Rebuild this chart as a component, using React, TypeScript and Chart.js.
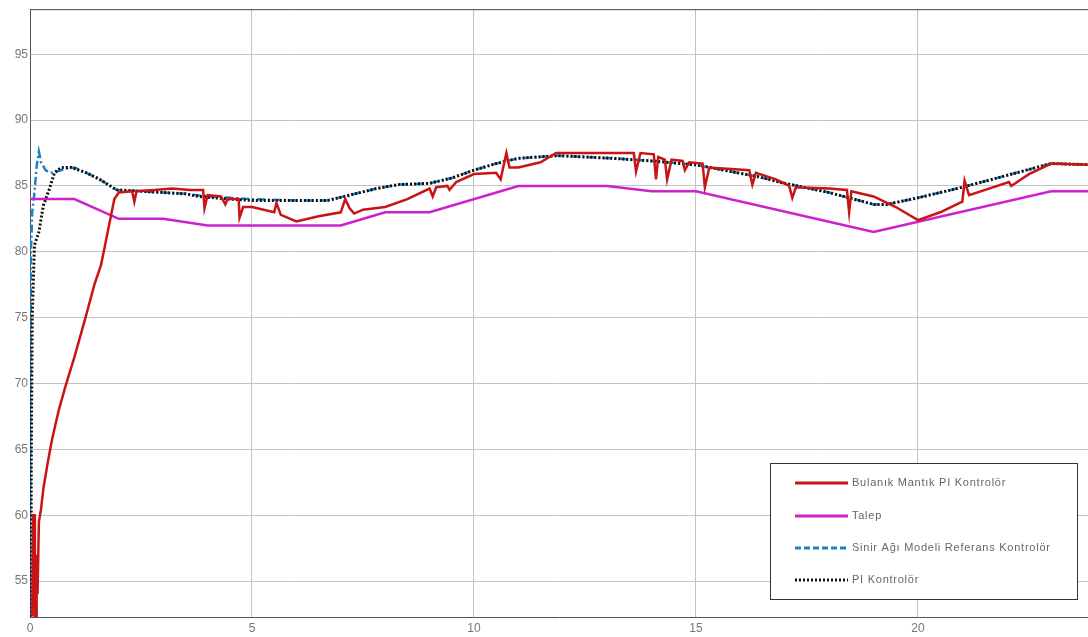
import React, { useEffect, useRef } from "react";
import { Chart, registerables } from "chart.js";
Chart.register(...registerables);

const xTicks = [0, 5, 10, 15, 20];
const yTicks = [55, 60, 65, 70, 75, 80, 85, 90, 95];

const seriesNames = [
  "Bulanık Mantık PI Kontrolör",
  "Talep",
  "Sinir Ağı Modeli Referans Kontrolör",
  "PI Kontrolör",
];

const talepX = [0, 1, 2, 3, 4, 7, 8, 9, 11, 13, 14, 15, 19, 23, 24];
const talepY = [84, 84, 82.5, 82.5, 82, 82, 83, 83, 85, 85, 84.6, 84.6, 81.5, 84.6, 84.6];

const piX = [0.02, 0.03, 0.05, 0.1, 0.2, 0.3, 0.44, 0.55, 0.7, 0.93, 1.27, 1.57, 1.95, 2.5, 3, 3.5, 3.8, 4.5, 5, 6, 6.7, 7.2, 7.8, 8.3, 9, 9.5, 10, 10.5, 11, 11.9, 13.1, 14, 15, 16.4, 17, 18, 19, 19.3, 20, 21, 22, 23, 24];
const piY = [52.3, 65, 75, 80.5, 81.5, 83.5, 84.8, 86.0, 86.4, 86.4, 86.0, 85.5, 84.7, 84.6, 84.5, 84.4, 84.2, 84.0, 83.9, 83.9, 83.9, 84.3, 84.8, 85.1, 85.2, 85.6, 86.2, 86.7, 87.1, 87.3, 87.1, 86.9, 86.6, 85.7, 85.2, 84.5, 83.6, 83.6, 84.1, 84.9, 85.8, 86.7, 86.6];

const nnX = [0, 0.01, 0.02, 0.05, 0.1, 0.15, 0.2, 0.25, 0.35, 0.45, 0.6, 0.8, 1.0, 1.27, 1.57, 1.95, 2.5, 3, 3.5, 4.0, 4.5, 5, 6, 6.7, 7.2, 7.8, 8.3, 9, 9.5, 10, 10.5, 11, 11.9, 13.1, 14, 15, 16.4, 17, 18, 19, 19.3, 20, 21, 22, 23, 24];
const nnY = [52.3, 70, 80, 83, 84.5, 86.5, 87.6, 86.8, 86.2, 86.0, 86.1, 86.3, 86.4, 86.0, 85.5, 84.7, 84.6, 84.5, 84.4, 84.2, 84.1, 84.0, 83.9, 83.9, 84.3, 84.8, 85.1, 85.2, 85.6, 86.2, 86.7, 87.1, 87.3, 87.1, 86.9, 86.6, 85.7, 85.2, 84.5, 83.6, 83.6, 84.1, 84.9, 85.8, 86.7, 86.6];

const fuzzyX = [0.05, 0.07, 0.1, 0.11, 0.14, 0.15, 0.17, 0.2, 0.25, 0.3, 0.4, 0.5, 0.65, 0.8, 1.0, 1.25, 1.45, 1.6, 1.75, 1.9, 2.0, 2.3, 2.35, 2.4, 2.8, 3.2, 3.6, 3.9, 3.93, 4.0, 4.3, 4.4, 4.45, 4.7, 4.72, 4.8, 5.0, 5.5, 5.55, 5.65, 6.0, 6.5, 7.0, 7.1, 7.2, 7.3, 7.5, 8.0, 8.5, 9.0, 9.07, 9.15, 9.4, 9.45, 9.6, 10.0, 10.5, 10.6, 10.73, 10.8, 11.0, 11.5, 11.85, 13.6, 13.65, 13.75, 14.05, 14.1, 14.15, 14.3, 14.35, 14.45, 14.7, 14.75, 14.85, 15.15, 15.2, 15.3, 16.2, 16.27, 16.35, 16.8, 17.1, 17.17, 17.25, 18.0, 18.4, 18.45, 18.5, 19.0, 19.5, 20.0, 20.5, 21.0, 21.05, 21.15, 21.6, 22.05, 22.1, 22.5, 23.0, 24];
const fuzzyY = [52.3, 60, 60, 52.3, 52.3, 57, 54, 59.5, 60.5, 62, 64, 65.8, 68, 69.8, 72, 75, 77.5, 79, 81.5, 84.0, 84.5, 84.6, 83.8, 84.6, 84.7, 84.8, 84.7, 84.7, 83.3, 84.3, 84.2, 83.6, 84.0, 84.0, 82.6, 83.4, 83.4, 83.0, 83.7, 82.8, 82.3, 82.7, 83.0, 84.0, 83.3, 82.9, 83.2, 83.4, 84.0, 84.8, 84.2, 84.9, 85.0, 84.7, 85.3, 85.9, 86.0, 85.5, 87.5, 86.4, 86.4, 86.8, 87.5, 87.5, 86.1, 87.5, 87.4, 85.5, 87.2, 87.0, 85.5, 87.0, 86.9, 86.2, 86.8, 86.7, 84.9, 86.4, 86.2, 85.1, 86.0, 85.5, 85.0, 84.1, 84.9, 84.8, 84.7, 83.0, 84.6, 84.2, 83.4, 82.4, 83.0, 83.8, 85.4, 84.3, 84.8, 85.3, 85.0, 85.9, 86.7, 86.6];

const toPts = (xs: number[], ys: number[]) => xs.map((x, i) => ({ x, y: ys[i] }));

const COLORS = {
  fuzzy: "#c81414",
  talep: "#cc22cc",
  nn: "#1f80c4",
  pi: "#111111",
};

const legendPlugin = {
  id: "customLegend",
  afterDraw(chart: any) {
    const ctx = chart.ctx;
    ctx.save();
    const bx = 770, by = 463, bw = 307, bh = 136;
    ctx.fillStyle = "#ffffff";
    ctx.fillRect(bx, by, bw, bh);
    ctx.strokeStyle = "#333333";
    ctx.lineWidth = 1;
    ctx.strokeRect(bx + 0.5, by + 0.5, bw, bh);
    const rows = [483, 516, 548, 580];
    const styles = [
      { c: COLORS.fuzzy, d: [] as number[] },
      { c: COLORS.talep, d: [] as number[] },
      { c: COLORS.nn, d: [6, 3] },
      { c: COLORS.pi, d: [2, 2] },
    ];
    rows.forEach((y, i) => {
      ctx.beginPath();
      ctx.setLineDash(styles[i].d);
      ctx.strokeStyle = styles[i].c;
      ctx.lineWidth = 3;
      ctx.moveTo(795, y);
      ctx.lineTo(848, y);
      ctx.stroke();
      ctx.setLineDash([]);
      ctx.fillStyle = "#666666";
      ctx.font = "11px 'Liberation Sans', Arial, sans-serif";
      try {
        (ctx as any).letterSpacing = "0.75px";
      } catch (e) {}
      ctx.textBaseline = "middle";
      ctx.textAlign = "left";
      ctx.fillText(seriesNames[i], 852, y);
      try {
        (ctx as any).letterSpacing = "0px";
      } catch (e) {}
    });
    ctx.restore();
  },
};

const framePlugin = {
  id: "frame",
  afterDraw(chart: any) {
    const { ctx, chartArea } = chart;
    ctx.save();
    ctx.strokeStyle = "#444444";
    ctx.lineWidth = 1;
    ctx.beginPath();
    ctx.moveTo(chartArea.left, chartArea.top + 0.5);
    ctx.lineTo(chartArea.right, chartArea.top + 0.5);
    ctx.stroke();
    ctx.restore();
  },
};

export default function App() {
  const ref = useRef<HTMLCanvasElement | null>(null);
  useEffect(() => {
    if (!ref.current) return;
    const tickFont = { family: "'Liberation Sans', Arial, sans-serif", size: 12 };
    const chart = new Chart(ref.current, {
      type: "line",
      data: {
        datasets: [
          {
            label: seriesNames[0],
            data: toPts(fuzzyX, fuzzyY),
            borderColor: COLORS.fuzzy,
            borderWidth: 2.5,
            pointRadius: 0,
            tension: 0,
          },
          {
            label: seriesNames[1],
            data: toPts(talepX, talepY),
            borderColor: COLORS.talep,
            borderWidth: 2.5,
            pointRadius: 0,
            tension: 0,
          },
          {
            label: seriesNames[3],
            data: toPts(piX, piY),
            borderColor: COLORS.pi,
            borderWidth: 3,
            borderDash: [2, 2],
            pointRadius: 0,
            tension: 0,
          },
          {
            label: seriesNames[2],
            data: toPts(nnX, nnY),
            borderColor: COLORS.nn,
            borderWidth: 2.5,
            borderDash: [8, 3, 2, 3],
            pointRadius: 0,
            tension: 0,
          },
        ],
      },
      options: {
        animation: false,
        responsive: false,
        devicePixelRatio: 1,
        layout: { padding: { top: 9, right: 0, left: 0, bottom: 0 } },
        plugins: { legend: { display: false }, tooltip: { enabled: false } },
        scales: {
          x: {
            type: "linear",
            min: 0,
            max: 23.83,
            afterFit: (s: any) => {
              s.height = 20;
            },
            afterBuildTicks: (s: any) => {
              s.ticks = xTicks.map((v) => ({ value: v }));
            },
            grid: { color: "#c4c4c4", drawTicks: false },
            border: { display: true, color: "#555555" },
            ticks: { color: "#777777", font: tickFont, padding: 4, maxRotation: 0 },
          },
          y: {
            type: "linear",
            min: 52.27,
            max: 98.42,
            afterFit: (s: any) => {
              s.width = 30;
            },
            afterBuildTicks: (s: any) => {
              s.ticks = yTicks.map((v) => ({ value: v }));
            },
            grid: { color: "#c4c4c4", drawTicks: false },
            border: { display: true, color: "#555555" },
            ticks: { color: "#777777", font: tickFont, padding: 2 },
          },
        },
      },
      plugins: [framePlugin, legendPlugin],
    } as any);
    return () => chart.destroy();
  }, []);
  return (
    <div style={{ position: "fixed", left: 0, top: 0, width: 1088, height: 637, background: "#fff" }}>
      <canvas ref={ref} width={1088} height={637} />
    </div>
  );
}
